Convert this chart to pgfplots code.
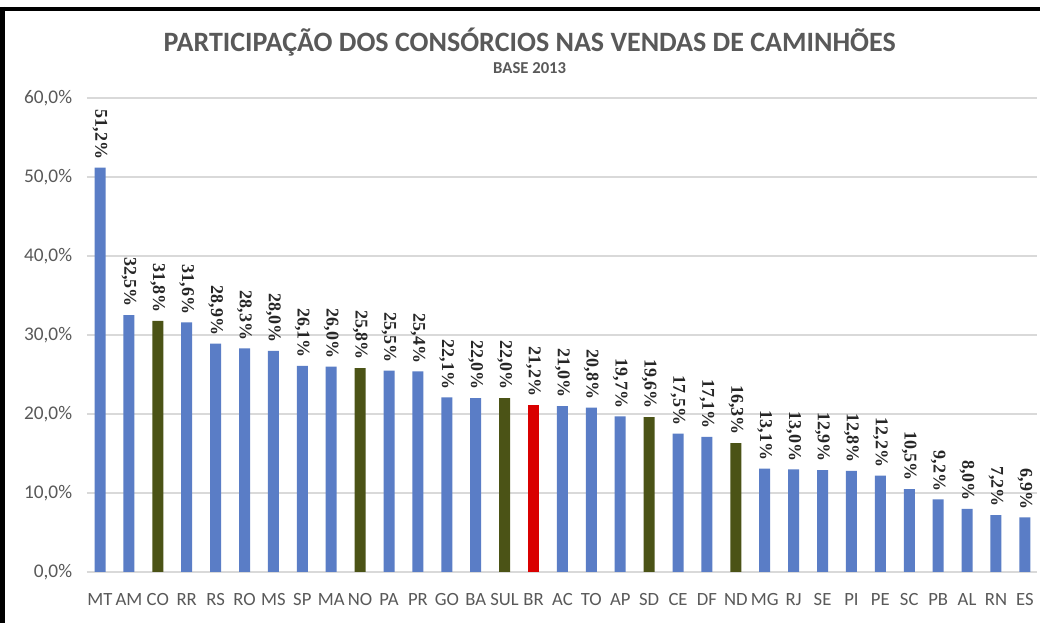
\documentclass[border=0pt]{standalone}
\usepackage{pgfplots}
\pgfplotsset{compat=1.18}
\usepackage{fontspec}
\setmainfont{Carlito}
\newfontfamily\lblfont{Liberation Serif}
\definecolor{barblue}{HTML}{5A7DC6}
\definecolor{barolive}{HTML}{4B5316}
\definecolor{barred}{HTML}{D90000}
\definecolor{txtgray}{HTML}{595959}
\definecolor{gridgray}{HTML}{D9D9D9}
\begin{document}
\begin{tikzpicture}
\useasboundingbox (-65.25pt,-38.25pt) rectangle (714.75pt,429pt);
\fill[white] (-65.25pt,-38.25pt) rectangle (714.75pt,429pt);
\draw[line width=3pt] (-65.25pt,422.25pt) -- (714.75pt,422.25pt);
\draw[line width=3.75pt] (-63.4pt,423.75pt) -- (-63.4pt,-38.25pt);
\begin{axis}[
  at={(0,0)}, anchor=south west,
  width=712.5pt, height=355.5pt, scale only axis,
  xmin=-0.45, xmax=32.42, ymin=0, ymax=60,
  clip=false,
  axis line style={draw=none},
  tick style={draw=none},
  major tick length=0pt,
  ymajorgrids,
  grid style={color=gridgray, line width=1pt},
  ytick={0,10,20,30,40,50,60},
  yticklabels={{0,0\%},{10,0\%},{20,0\%},{30,0\%},{40,0\%},{50,0\%},{60,0\%}},
  yticklabel style={font=\fontsize{14.5}{16}\selectfont, text=txtgray, anchor=east, inner sep=0pt, xshift=-11pt},
  xtick={0,...,32},
  xticklabels={MT,AM,CO,RR,RS,RO,MS,SP,MA,NO,PA,PR,GO,BA,SUL,BR,AC,TO,AP,SD,CE,DF,ND,MG,RJ,SE,PI,PE,SC,PB,AL,RN,ES},
  xticklabel style={font=\fontsize{14}{16}\selectfont, text=txtgray, anchor=north, inner sep=0pt, yshift=-16pt},
  ybar, bar width=8.25pt, bar shift=0pt,
  nodes near coords={\pgfmathprintnumber[fixed,fixed zerofill,precision=1,use comma,assume math mode=true]{\pgfplotspointmeta}\%},
  every node near coord/.append style={font=\lblfont\bfseries\fontsize{13.5}{15}\selectfont, text=black!85, rotate=-90, anchor=east, inner xsep=6pt, inner ysep=0pt},
]
\addplot[fill=barblue, draw=none] coordinates {(0,51.2)(1,32.5)(3,31.6)(4,28.9)(5,28.3)(6,28.0)(7,26.1)(8,26.0)(10,25.5)(11,25.4)(12,22.1)(13,22.0)(16,21.0)(17,20.8)(18,19.7)(20,17.5)(21,17.1)(23,13.1)(24,13.0)(25,12.9)(26,12.8)(27,12.2)(28,10.5)(29,9.2)(30,8.0)(31,7.2)(32,6.9)};
\addplot[fill=barolive, draw=none] coordinates {(2,31.8)(9,25.8)(14,22.0)(19,19.6)(22,16.3)};
\addplot[fill=barred, draw=none] coordinates {(15,21.2)};
\end{axis}
\node[font=\bfseries\fontsize{21}{24}\selectfont, text=txtgray] at (332pt,397.5pt) {PARTICIPAÇÃO DOS CONSÓRCIOS NAS VENDAS DE CAMINHÕES};
\node[font=\bfseries\fontsize{12.5}{15}\selectfont, text=txtgray] at (332pt,378pt) {BASE 2013};
\end{tikzpicture}
\end{document}
